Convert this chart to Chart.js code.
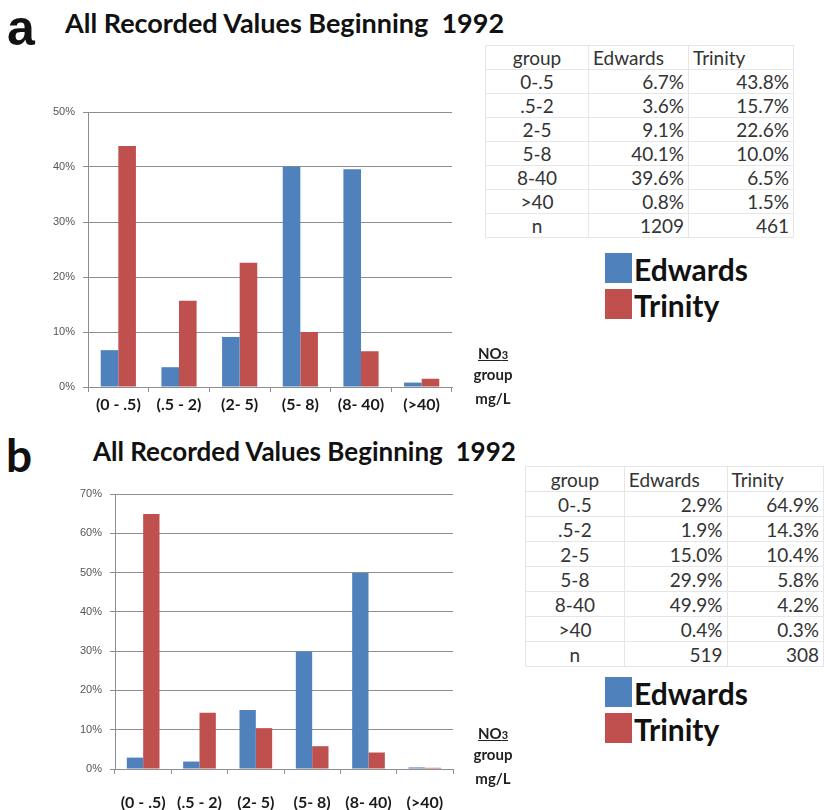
<!DOCTYPE html>
<html>
<head>
<meta charset="utf-8">
<script src="https://cdn.jsdelivr.net/npm/chart.js@4.4.1/dist/chart.umd.min.js"></script>
<style>
  html, body { margin: 0; padding: 0; background: #fff; }
  #page { position: relative; width: 824px; height: 810px; overflow: hidden; font-family: Lato, "Open Sans", sans-serif; color: #111; }
  .abs { position: absolute; }
  .panel { font-family: "Liberation Sans", Arial, sans-serif; font-weight: bold; font-size: 50px; line-height: 1; }
  .heading { font-weight: bold; white-space: nowrap; line-height: 1; }
  table.vals { position: absolute; border-collapse: collapse; font-size: 19px; color: #333; }
  table.vals td { border: 1px solid #e6e6e6; padding: 0 4px; line-height: 1; }
  table.vals td.g { text-align: center; }
  table.vals td.n { text-align: right; }
  table.vals tr.hd td { text-align: left; }
  table.vals tr.hd td.g { text-align: center; }
  .key { position: absolute; font-weight: bold; font-size: 30px; line-height: 1; }
  .key div { position: relative; height: 36px; }
  .key span.sw { position: absolute; left: 0; width: 27px; height: 30px; }
  .key span.lb { position: absolute; left: 29px; top: 1px; }
  .unit { position: absolute; font-weight: bold; font-size: 15px; text-align: center; width: 54px; line-height: 1; color: #222; }
  .unit .no { text-decoration: underline; }
  .unit .no small { font-size: 11px; }
</style>
</head>
<body>
<div id="page">
  <div class="abs panel" style="left:7px; top:3px;">a</div>
  <div class="abs heading" style="left:65px; top:9px; font-size:27px;">All Recorded Values Beginning&nbsp; 1992</div>
  <canvas id="chartA" class="abs" style="left:0; top:90px;" width="480" height="330"></canvas>
  <table id="tableA" class="vals" style="left:485px; top:45px;"></table>
  <div class="key" style="left:605px; top:253px;">
    <div><span class="sw" style="background:#4f81bd"></span><span class="lb">Edwards</span></div>
    <div><span class="sw" style="background:#c0504d"></span><span class="lb">Trinity</span></div>
  </div>
  <div class="unit" style="left:466px; top:346px;">
    <div class="no">NO<small>3</small></div>
    <div style="margin-top:6px">group</div>
    <div style="margin-top:9px">mg/L</div>
  </div>

  <div class="abs panel" style="left:6px; top:432px; font-family:Lato, sans-serif; font-size:46px;">b</div>
  <div class="abs heading" style="left:93px; top:438px; font-size:26px;">All Recorded Values Beginning&nbsp; 1992</div>
  <canvas id="chartB" class="abs" style="left:0; top:470px;" width="480" height="340"></canvas>
  <table id="tableB" class="vals" style="left:525px; top:466px;"></table>
  <div class="key" style="left:605px; top:677px;">
    <div><span class="sw" style="background:#4f81bd"></span><span class="lb">Edwards</span></div>
    <div><span class="sw" style="background:#c0504d"></span><span class="lb">Trinity</span></div>
  </div>
  <div class="unit" style="left:466px; top:726px;">
    <div class="no">NO<small>3</small></div>
    <div style="margin-top:6px">group</div>
    <div style="margin-top:9px">mg/L</div>
  </div>
</div>

<script>
// NO3 concentration groups (mg/L)
const categories = ['(0 - .5)', '(.5 - 2)', '(2- 5)', '(5- 8)', '(8- 40)', '(>40)'];
const tableGroups = ['0-.5', '.5-2', '2-5', '5-8', '8-40', '>40'];

// panel a: percent of samples per group
const edwardsA = [6.7, 3.6, 9.1, 40.1, 39.6, 0.8];
const trinityA = [43.8, 15.7, 22.6, 10.0, 6.5, 1.5];
const countsA = [1209, 461];
const yTicksA = [0, 10, 20, 30, 40, 50];

// panel b
const edwardsB = [2.9, 1.9, 15.0, 29.9, 49.9, 0.4];
const trinityB = [64.9, 14.3, 10.4, 5.8, 4.2, 0.3];
const countsB = [519, 308];
const yTicksB = [0, 10, 20, 30, 40, 50, 60, 70];

const BLUE = '#4f81bd';
const RED = '#c0504d';
const GRID = '#8e8e8e';

function makeChart(id, edwards, trinity, yTicks, box) {
  const ctx = document.getElementById(id).getContext('2d');
  return new Chart(ctx, {
    type: 'bar',
    data: {
      labels: categories,
      datasets: [
        { label: 'Edwards', data: edwards, backgroundColor: BLUE, categoryPercentage: 0.58, barPercentage: 1.0 },
        { label: 'Trinity', data: trinity, backgroundColor: RED, categoryPercentage: 0.58, barPercentage: 1.0 },
      ],
    },
    options: {
      responsive: false,
      animation: false,
      devicePixelRatio: 1,
      layout: { padding: { top: box.top, right: box.right, left: 0, bottom: 0 } },
      plugins: { legend: { display: false }, tooltip: { enabled: false } },
      scales: {
        x: {
          afterFit: (s) => { s.height = box.xHeight; },
          grid: { offset: true, drawOnChartArea: false, color: GRID, tickLength: 5 },
          border: { color: GRID },
          ticks: {
            color: '#1a1a1a',
            padding: box.labelPad,
            maxRotation: 0,
            autoSkip: false,
            font: { family: 'Lato', weight: 'bold', size: 16 },
          },
        },
        y: {
          min: 0,
          max: yTicks[yTicks.length - 1],
          afterFit: (s) => { s.width = box.yWidth; },
          afterBuildTicks: (s) => { s.ticks = yTicks.map((v) => ({ value: v })); },
          grid: { color: GRID, tickLength: 5 },
          border: { color: GRID },
          ticks: {
            color: '#555',
            padding: 8,
            font: { family: 'Liberation Sans', size: 11 },
            callback: (v) => v + '%',
          },
        },
      },
    },
  });
}

function fillTable(id, edwards, trinity, counts) {
  const tbl = document.getElementById(id);
  let html = '<tr class="hd"><td class="g">group</td><td>Edwards</td><td>Trinity</td></tr>';
  tableGroups.forEach((g, i) => {
    html += `<tr><td class="g">${g}</td><td class="n">${edwards[i].toFixed(1)}%</td><td class="n">${trinity[i].toFixed(1)}%</td></tr>`;
  });
  html += `<tr><td class="g">n</td><td class="n">${counts[0]}</td><td class="n">${counts[1]}</td></tr>`;
  tbl.innerHTML = html;
}

makeChart('chartA', edwardsA, trinityA, yTicksA, { top: 22, right: 28, yWidth: 88, xHeight: 33, labelPad: 3 });
makeChart('chartB', edwardsB, trinityB, yTicksB, { top: 24, right: 27, yWidth: 115, xHeight: 41, labelPad: 19 });

fillTable('tableA', edwardsA, trinityA, countsA);
fillTable('tableB', edwardsB, trinityB, countsB);

// fixed cell geometry for the two value tables
function sizeTable(id, rowH, widths) {
  const tbl = document.getElementById(id);
  for (const tr of tbl.rows) {
    tr.style.height = rowH + 'px';
    [...tr.cells].forEach((td, i) => { td.style.width = (widths[i] - 9) + 'px'; });
  }
}
sizeTable('tableA', 24, [103, 100, 105]);
sizeTable('tableB', 25, [103, 105, 100]);
</script>
</body>
</html>
